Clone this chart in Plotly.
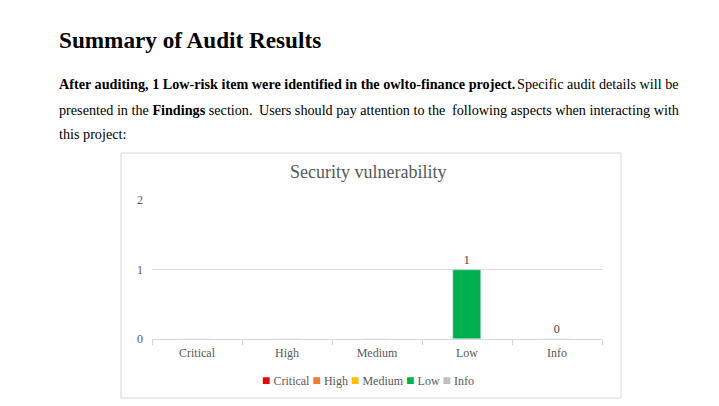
import plotly.graph_objects as go

categories = ["Critical", "High", "Medium", "Low", "Info"]
counts = [0, 0, 0, 1, 0]
labels = ["", "", "", "1", "0"]
colors = ["#E60012", "#ED7D31", "#FFC000", "#00B050", "#BFBFBF"]
y_ticks = [0, 1, 2]

W, H = 719, 406
L, R, T, B = 152, 602, 200, 339

def px(x):
    return (x - L) / (R - L)

def py(y):
    return (B - y) / (B - T)

serif = "Liberation Serif"

fig = go.Figure()
fig.add_trace(go.Bar(
    x=categories, y=counts, marker_color=colors, width=0.31,
    text=labels, textposition="outside", showlegend=False,
    textfont=dict(family=serif, size=12, color="#404040"),
    cliponaxis=False,
))

body = dict(family=serif, size=14.2, color="#000000")
ann = []
ann.append(dict(x=px(57), y=py(40), text="<b>Summary of Audit Results</b>", xanchor="left",
                font=dict(family=serif, size=23.2, color="#000000")))
ann.append(dict(x=px(57), y=py(84), text="<b>After auditing, 1 Low-risk item were identified in the owlto-finance project.</b>",
                xanchor="left", font=body))
ann.append(dict(x=px(681), y=py(84), text="Specific audit details will be",
                xanchor="right", font=body))
ann.append(dict(x=px(57), y=py(110), text="presented in the <b>Findings</b> section.",
                xanchor="left", font=body))
ann.append(dict(x=px(352), y=py(110), text="Users should pay attention to the",
                xanchor="center", font=body))
ann.append(dict(x=px(681), y=py(110), text="following aspects when interacting with",
                xanchor="right", font=body))
ann.append(dict(x=px(57), y=py(134), text="this project:",
                xanchor="left", font=body))
ann.append(dict(x=px(368), y=py(172), text="Security vulnerability",
                font=dict(family=serif, size=18, color="#595959")))

# compact legend built from the category and colour lists
legend_html = " ".join(
    f'<span style="color:{col};font-size:14px">■</span> {cat}' for cat, col in zip(categories, colors)
)
ann.append(dict(x=px(368), y=py(380), text=legend_html,
                font=dict(family=serif, size=12, color="#595959")))

for a in ann:
    a.update(xref="paper", yref="paper", showarrow=False, yanchor="middle")
    a.setdefault("xanchor", "center")

fig.update_layout(
    width=W, height=H,
    margin=dict(l=L, r=W - R, t=T, b=H - B),
    paper_bgcolor="white", plot_bgcolor="white",
    bargap=0, showlegend=False,
    annotations=ann,
    shapes=[dict(type="rect", xref="paper", yref="paper", x0=px(121), x1=px(621), y0=py(398), y1=py(153),
                 line=dict(color="#D9D9D9", width=1), fillcolor="rgba(0,0,0,0)", layer="below")],
    font=dict(family=serif),
)
fig.update_xaxes(type="category", categoryorder="array", categoryarray=categories,
                 showgrid=False, showline=True, linecolor="#D9D9D9", linewidth=1,
                 ticks="outside", tickson="boundaries", ticklen=5, tickcolor="#D9D9D9",
                 ticklabelstandoff=3,
                 tickfont=dict(family=serif, size=12, color="#595959"), fixedrange=True)
fig.update_yaxes(range=[0, 2], tickvals=y_ticks, showgrid=True, gridcolor="#D9D9D9",
                 zeroline=False, showline=False, ticks="", ticklabelstandoff=8,
                 tickfont=dict(family=serif, size=12, color="#595959"), fixedrange=True)

fig.write_html("out.html", config={"displayModeBar": False})
